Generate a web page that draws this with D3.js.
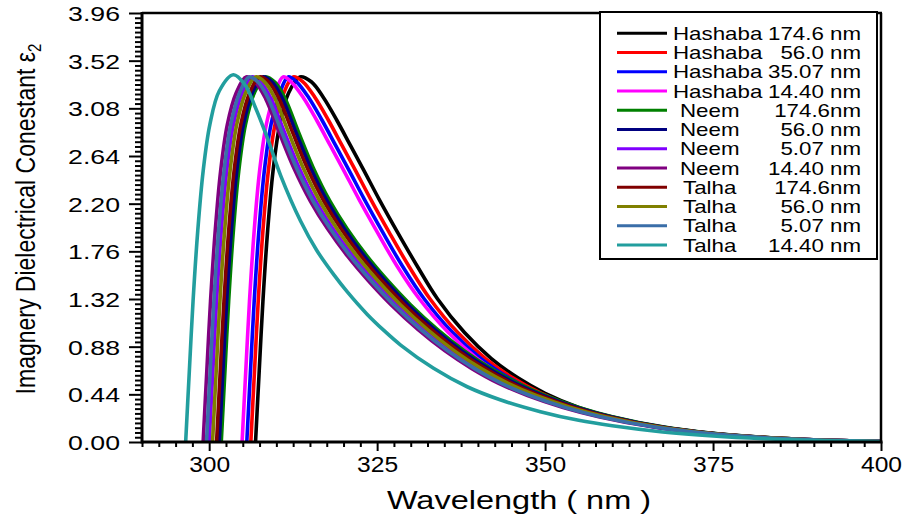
<!DOCTYPE html>
<html><head><meta charset="utf-8">
<script src="https://cdn.jsdelivr.net/npm/d3@7"></script>
<style>
body{margin:0;background:#fff;}
svg{display:block;}
text{font-family:"Liberation Sans",Arial,Helvetica,sans-serif;fill:#000;}
</style>
</head><body>
<svg id="c" width="908" height="521"></svg>
<script>
// ---------- DATA ----------
const legendNames = ["Hashaba","Hashaba","Hashaba","Hashaba","Neem","Neem","Neem","Neem","Talha","Talha","Talha","Talha"];
const legendSizes = ["174.6 nm","56.0 nm","35.07 nm","14.40 nm","174.6nm","56.0 nm","5.07 nm","14.40 nm","174.6nm","56.0 nm","5.07 nm","14.40 nm"];
const seriesColors = ["#000000","#ff0000","#0000ff","#ff00ff","#008000","#000080","#8000ff","#800080","#800000","#808000","#3a6ea8","#229e9e"];
const xMajorTicks = [300,325,350,375,400];
const yMajorTicks = [0,0.44,0.88,1.32,1.76,2.20,2.64,3.08,3.52,3.96];

// [wavelength (nm), epsilon2]
const hashaba174 = [[306.9,0],[307.4,0.6],[308.0,1.3],[308.7,1.95],[309.5,2.5],[310.5,2.93],[311.8,3.22],[313.5,3.37],[315.2,3.325],[317,3.18],[319,2.97],[321,2.74],[323,2.51],[325.3,2.24],[328,1.94],[331,1.62],[334,1.32],[338,1.01],[342,0.77],[346,0.59],[350,0.45],[355,0.32],[360,0.23],[367.5,0.135],[375,0.077],[382.5,0.041],[390,0.018],[400,0.004]];
const hashaba56 = [[306.2,0],[306.7,0.6],[307.3,1.3],[308.0,1.95],[308.8,2.5],[309.8,2.93],[311.1,3.22],[312.5,3.37],[313.95,3.325],[315.75,3.18],[317.75,2.97],[319.75,2.74],[321.75,2.51],[324.05,2.24],[326.75,1.94],[329.75,1.62],[332.88,1.32],[337.0,1.01],[341.13,0.77],[345.25,0.59],[349.38,0.45],[354.5,0.32],[359.59,0.23],[367.19,0.135],[374.78,0.077],[382.38,0.041],[389.94,0.018],[400,0.004]];
const hashaba35 = [[305.6,0],[306.1,0.6],[306.7,1.3],[307.4,1.95],[308.2,2.5],[309.2,2.93],[310.5,3.22],[311.75,3.37],[313.0,3.325],[314.8,3.18],[316.8,2.97],[318.8,2.74],[320.8,2.51],[323.1,2.24],[325.8,1.94],[328.8,1.62],[332.02,1.32],[336.24,1.01],[340.46,0.77],[344.68,0.59],[348.9,0.45],[354.12,0.32],[359.27,0.23],[366.95,0.135],[374.6,0.077],[382.28,0.041],[389.89,0.018],[400,0.004]];
const hashaba14 = [[304.9,0],[305.4,0.6],[306.0,1.3],[306.7,1.95],[307.5,2.5],[308.5,2.93],[309.8,3.22],[311.0,3.37],[312.2,3.325],[314.0,3.18],[316.0,2.97],[318.0,2.74],[320.0,2.51],[322.3,2.24],[325.0,1.94],[328.0,1.62],[331.3,1.32],[335.6,1.01],[339.9,0.77],[344.2,0.59],[348.5,0.45],[353.8,0.32],[359.0,0.23],[366.75,0.135],[374.46,0.077],[382.2,0.041],[389.85,0.018],[400,0.004]];
const neem174 = [[301.8,0],[302.3,0.6],[302.9,1.3],[303.6,1.95],[304.4,2.5],[305.4,2.93],[306.7,3.22],[308.3,3.37],[309.8,3.32],[311.3,3.17],[313.3,2.86],[315.5,2.53],[318,2.22],[320.5,1.97],[323.5,1.715],[326.5,1.495],[330,1.265],[334,1.037],[338,0.841],[342,0.677],[346,0.541],[350,0.429],[355,0.319],[360,0.234],[367.5,0.14],[375,0.08],[382.5,0.043],[390,0.02],[400,0.005]];
const neem56 = [[301.5,0],[302.0,0.6],[302.6,1.3],[303.3,1.95],[304.1,2.5],[305.1,2.93],[306.4,3.22],[307.95,3.37],[309.4,3.32],[310.9,3.17],[312.9,2.86],[315.1,2.53],[317.6,2.22],[320.1,1.97],[323.1,1.715],[326.1,1.495],[329.6,1.265],[333.6,1.037],[337.6,0.841],[341.6,0.677],[345.6,0.541],[349.64,0.429],[354.68,0.319],[359.72,0.234],[367.28,0.14],[374.84,0.08],[382.4,0.043],[389.96,0.02],[400,0.005]];
const neem5 = [[300.0,0],[300.5,0.6],[301.1,1.3],[301.8,1.95],[302.6,2.5],[303.6,2.93],[304.9,3.22],[306.35,3.37],[307.7,3.32],[309.2,3.17],[311.2,2.86],[313.4,2.53],[315.9,2.22],[318.4,1.97],[321.4,1.715],[324.4,1.495],[327.9,1.265],[331.9,1.037],[335.9,0.841],[339.9,0.677],[343.9,0.541],[348.11,0.429],[353.32,0.319],[358.53,0.234],[366.35,0.14],[374.16,0.08],[381.98,0.043],[389.79,0.02],[400,0.004]];
const neem14 = [[299.1,0],[299.6,0.6],[300.2,1.3],[300.9,1.95],[301.7,2.5],[302.7,2.93],[304.0,3.22],[305.5,3.37],[306.9,3.32],[308.4,3.17],[310.4,2.86],[312.6,2.53],[315.1,2.22],[317.6,1.97],[320.6,1.715],[323.6,1.495],[327.1,1.265],[331.1,1.037],[335.1,0.841],[339.1,0.677],[343.1,0.541],[347.39,0.429],[352.68,0.319],[357.97,0.234],[365.9,0.14],[373.84,0.08],[381.78,0.043],[389.71,0.02],[400,0.004]];
const talha174 = [[301.1,0],[301.6,0.6],[302.2,1.3],[302.9,1.95],[303.7,2.5],[304.7,2.93],[306.0,3.22],[307.5,3.37],[308.9,3.32],[310.4,3.17],[312.4,2.86],[314.6,2.53],[317.1,2.22],[319.6,1.97],[322.6,1.715],[325.6,1.495],[329.1,1.265],[333.1,1.037],[337.1,0.841],[341.1,0.677],[345.1,0.541],[349.19,0.429],[354.28,0.319],[359.37,0.234],[367.0,0.14],[374.64,0.08],[382.28,0.043],[389.91,0.02],[400,0.005]];
const talha56 = [[300.5,0],[301.0,0.6],[301.6,1.3],[302.3,1.95],[303.1,2.5],[304.1,2.93],[305.4,3.22],[306.9,3.37],[308.3,3.32],[309.8,3.17],[311.8,2.86],[314.0,2.53],[316.5,2.22],[319.0,1.97],[322.0,1.715],[325.0,1.495],[328.5,1.265],[332.5,1.037],[336.5,0.841],[340.5,0.677],[344.5,0.541],[348.65,0.429],[353.8,0.319],[358.95,0.234],[366.68,0.14],[374.4,0.08],[382.13,0.043],[389.85,0.02],[400,0.004]];
const talha5 = [[299.6,0],[300.1,0.6],[300.7,1.3],[301.4,1.95],[302.2,2.5],[303.2,2.93],[304.5,3.22],[305.95,3.37],[307.3,3.32],[308.8,3.17],[310.8,2.86],[313.0,2.53],[315.5,2.22],[318.0,1.97],[321.0,1.715],[324.0,1.495],[327.5,1.265],[331.5,1.037],[335.5,0.841],[339.5,0.677],[343.5,0.541],[347.75,0.429],[353.0,0.319],[358.25,0.234],[366.13,0.14],[374.0,0.08],[381.88,0.043],[389.75,0.02],[400,0.004]];
const talha14 = [[296.5,0],[297.0,0.6],[297.6,1.3],[298.3,1.95],[299.1,2.5],[300.1,2.93],[301.5,3.24],[303.6,3.39],[305.3,3.30],[306.8,3.10],[308.7,2.80],[310.7,2.45],[313.6,2.04],[316,1.77],[318.6,1.54],[320.5,1.39],[323.5,1.18],[326,1.03],[328.5,0.895],[333.4,0.68],[338.4,0.51],[343.3,0.39],[349.3,0.28],[355,0.20],[360,0.15],[367.5,0.093],[375,0.055],[382.5,0.03],[390,0.014],[400,0.003]];

const seriesData = [hashaba174,hashaba56,hashaba35,hashaba14,neem174,neem56,neem5,neem14,talha174,talha56,talha5,talha14];

// ---------- LAYOUT ----------
const M = {left:142, right:881, top:13, bottom:442};
const x = d3.scaleLinear().domain([290,400]).range([M.left,M.right]);
const y = d3.scaleLinear().domain([0,3.96]).range([M.bottom,M.top]);
const svg = d3.select("#c");

svg.append("rect").attr("width",908).attr("height",521).attr("fill","#fff");

svg.append("clipPath").attr("id","clip").append("rect")
  .attr("x",M.left).attr("y",M.top-2).attr("width",M.right-M.left).attr("height",M.bottom-M.top+2);

const line = d3.line().x(d=>x(d[0])).y(d=>y(d[1])).curve(d3.curveCatmullRom.alpha(0.5));
const plot = svg.append("g").attr("clip-path","url(#clip)");
seriesData.forEach((s,i)=>{
  plot.append("path").attr("d",line(s)).attr("fill","none")
    .attr("stroke",seriesColors[i]).attr("stroke-width",3.6)
    .attr("stroke-linejoin","round").attr("stroke-linecap","butt");
});

// ---------- AXES ----------
const xMinor = d3.range(290,400.001,2.5).filter(v=>!xMajorTicks.includes(v));
const yMinor = d3.range(0,3.9601,0.044).map(v=>+v.toFixed(3)).filter(v=>!yMajorTicks.some(t=>Math.abs(t-v)<1e-6));

const gx = svg.append("g").attr("transform",`translate(0,${M.bottom})`);
gx.call(d3.axisBottom(x).tickValues(xMinor).tickSize(5).tickFormat(""));
gx.select(".domain").remove();
const gxM = svg.append("g").attr("transform",`translate(0,${M.bottom})`)
  .call(d3.axisBottom(x).tickValues(xMajorTicks).tickSize(9).tickPadding(5).tickFormat(d3.format("d")));
gxM.select(".domain").remove();
gxM.selectAll("text").attr("font-size",22).attr("dy","0.71em")
  .each(function(){const t=d3.select(this);const yy=t.attr("y");t.attr("transform",`translate(0,${yy}) scale(1.12,1)`).attr("y",0);});

const gy = svg.append("g").attr("transform",`translate(${M.left},0)`);
gy.call(d3.axisLeft(y).tickValues(yMinor).tickSize(7).tickFormat(""));
gy.select(".domain").remove();
const gyM = svg.append("g").attr("transform",`translate(${M.left},0)`)
  .call(d3.axisLeft(y).tickValues(yMajorTicks).tickSize(13).tickPadding(9).tickFormat(d3.format(".2f")));
gyM.select(".domain").remove();
svg.selectAll("g.tick line").attr("stroke","#000").attr("stroke-width",2);
gyM.selectAll("text").attr("font-size",21).attr("dy","0.35em")
  .each(function(){const t=d3.select(this);const xx=t.attr("x");t.attr("transform",`translate(${xx},0) scale(1.27,1)`).attr("x",0);});

// frame
svg.append("line").attr("x1",M.left).attr("x2",M.right+1.5).attr("y1",M.bottom).attr("y2",M.bottom).attr("stroke","#000").attr("stroke-width",3);
svg.append("line").attr("x1",M.left).attr("x2",M.left).attr("y1",M.top-1).attr("y2",M.bottom+1.5).attr("stroke","#000").attr("stroke-width",3);
svg.append("line").attr("x1",M.left).attr("x2",M.right+1).attr("y1",M.top).attr("y2",M.top).attr("stroke","#000").attr("stroke-width",2.5);
svg.append("line").attr("x1",M.right).attr("x2",M.right).attr("y1",M.top).attr("y2",M.bottom).attr("stroke","#000").attr("stroke-width",2.5);

// axis titles
svg.append("text").attr("transform","translate(519,509) scale(1.3,1)")
  .attr("text-anchor","middle").attr("font-size",25).text("Wavelength ( nm )");
const yt = svg.append("text").attr("transform","translate(35,219) scale(1.22,1) rotate(-90)")
  .attr("text-anchor","middle").attr("font-size",23);
yt.append("tspan").text("Imagnery Dielectrical Conestant ε");
yt.append("tspan").attr("font-size",15).attr("dy","0.35em").text("2");

// ---------- LEGEND ----------
const lg = svg.append("g");
lg.append("rect").attr("x",600).attr("y",12).attr("width",277).attr("height",247)
  .attr("fill","#fff").attr("stroke","#000").attr("stroke-width",2);
const nameX = {Hashaba:673, Neem:680, Talha:683};
legendNames.forEach((n,i)=>{
  const yy = 33.3 + i*19.25;
  lg.append("line").attr("x1",617).attr("x2",667).attr("y1",yy).attr("y2",yy)
    .attr("stroke",seriesColors[i]).attr("stroke-width",3);
  lg.append("text").attr("transform",`translate(${nameX[n]},${yy+6.5}) scale(1.24,1)`)
    .attr("font-size",18).text(n);
  lg.append("text").attr("transform",`translate(861,${yy+6.5}) scale(1.24,1)`)
    .attr("font-size",18).attr("text-anchor","end").text(legendSizes[i]);
});
</script>
</body></html>
